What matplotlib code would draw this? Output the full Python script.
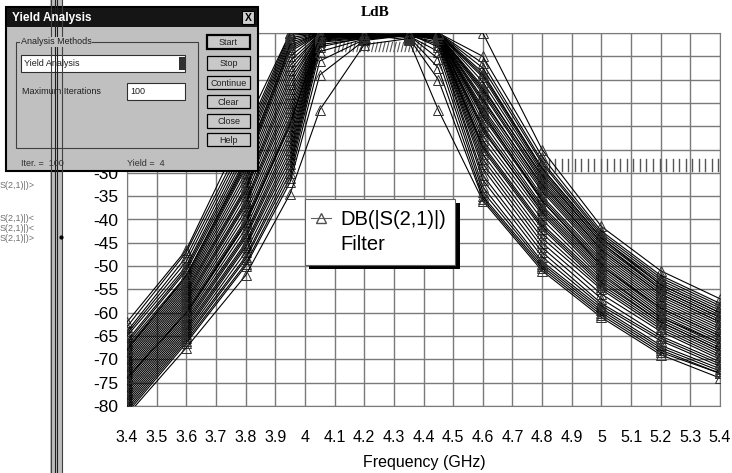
import numpy as np
import matplotlib
matplotlib.use('Agg')
import matplotlib.pyplot as plt
from matplotlib.patches import Rectangle
from matplotlib.lines import Line2D

# frequency points (GHz) where the swept responses are sampled / marked
freq = [3.4, 3.6, 3.8, 3.95, 4.05, 4.2, 4.35, 4.45, 4.6, 4.8, 5.0, 5.2, 5.4]

# DB(|S(2,1)|) of the yield iterations
curves = [
    [-62, -46.5, -20, 0, 0, -0.3, -1.5, -16.5, -36, -51, -61, -69, -74],
    [-63, -47, -22, 0, 0, -0.2, -0.6, -4, -33, -49, -59, -67, -72],
    [-64, -48, -23, -0.5, 0, -0.4, -0.3, -1.4, -27, -44, -55, -63.5, -69.5],
    [-64.5, -49, -24, -1, 0, -0.1, -0.5, -5.5, -34, -49.5, -59.5, -67.5, -72.5],
    [-65, -50, -25, -1.5, 0, -0.5, -0.2, -0.6, -22, -39, -52, -61, -67],
    [-66, -50.5, -26, -2, -0.1, -0.3, -0.4, -2.5, -30.5, -47, -58, -65.5, -71],
    [-66.5, -51, -27, -3, 0, -0.2, -0.7, -0.5, -16.5, -35, -48.5, -58, -64],
    [-67, -52, -28, -3.5, -0.1, -0.6, -0.3, -1.6, -28, -45, -56, -64, -70],
    [-67.5, -52.5, -28.5, -4, -0.2, -0.4, -0.5, -0.3, -13, -32, -46.5, -56, -62],
    [-68, -53, -29, -5, 0, -0.3, -0.2, -3, -31.5, -48, -58.5, -66, -71.5],
    [-68.5, -53.5, -30, -6, -0.2, -0.7, -0.4, -0.5, -19, -37, -50, -59.5, -65.5],
    [-69, -54, -31, -7, -0.3, -0.5, -0.6, 0, -8.5, -29, -44, -53.5, -59.5],
    [-69.5, -54.5, -32, -8, -0.1, -0.2, -0.3, -1.2, -25, -42, -54, -62.5, -68.5],
    [-70, -55, -33, -9, -0.3, -0.8, -0.5, -0.4, -15, -33.5, -47.5, -57, -63],
    [-70.5, -55.5, -33.5, -10, -0.4, -0.2, -1.0, -10, -35.5, -50.5, -60.5, -68.5, -73],
    [-71, -56, -34, -11, -0.2, -0.4, -0.8, -0.8, -21, -38, -51, -60.5, -66.5],
    [-71.5, -56.5, -35, -12, -0.5, -0.9, -0.3, -0.2, -11.5, -31, -45.5, -55, -61],
    [-72, -57, -36, -13, -0.4, -0.7, -0.6, -2, -29, -46, -57, -65, -70.5],
    [-72.5, -57.5, -36.5, -14, -0.6, -0.6, -0.4, -0.4, -17.5, -35.5, -49, -58.5, -64.5],
    [-73, -58, -37, -15, -0.5, -0.5, -0.2, 0, -6.5, -27.5, -43, -52.5, -58.5],
    [-73.5, -58.5, -38, -16, -0.7, -0.6, -0.5, -1, -24, -41, -53, -62, -68],
    [-74, -59, -39, -17, -0.6, -0.3, -0.7, -0.5, -17, -36, -50, -59, -65],
    [-74.5, -59.5, -40, -18, -0.8, -0.8, -0.4, -0.2, -14, -33, -47, -56.5, -62.5],
    [-75, -60, -40.5, -19, -0.9, -0.5, -0.5, -1.1, -26, -43, -54.5, -63, -69],
    [-75.5, -60.5, -41, -20, -0.7, -0.7, -0.3, -0.1, -9.5, -29.5, -44.5, -54, -60],
    [-76, -61, -42, -21, -1, -0.6, -0.6, -0.7, -20, -37.5, -50.5, -60, -66],
    [-76.5, -61.5, -43, -22, -1.1, -0.9, -0.5, -0.8, -20.5, -38.5, -51.5, -61, -66.5],
    [-77, -62, -43.5, -23, -1.3, -0.8, -0.2, -0.1, -12.5, -31.5, -46, -55.5, -61.5],
    [-77.5, -62.5, -44, -24, -1.2, -0.4, -0.8, -7.5, -35, -50, -60, -68, -73],
    [-78, -63, -45, -25, -1.5, -1.0, -0.4, -0.3, -16, -34, -48, -57.5, -63.5],
    [-78.5, -63.5, -45.5, -26, -1.8, -0.9, -0.7, -0.9, -23, -40, -52.5, -61.5, -67.5],
    [-79, -64, -46, -27, -2, -1.1, -0.3, 0, -10.5, -30, -45, -54.5, -60.5],
    [-79.5, -64.5, -47, -28, -2.5, -1.2, -0.6, -1.3, -24.5, -41.5, -53.5, -62, -68],
    [-80, -65, -48, -29, -3, -1.0, -0.3, 0, -7.5, -28, -43.5, -53, -59],
    [-80.5, -65.5, -48.5, -30, -4, -1.3, -0.5, -0.6, -18, -36, -49.5, -59, -65],
    [-81, -66, -49.5, -31, -6, -1.4, -0.4, -0.3, -14.5, -32.5, -46.5, -56, -62],
    [-81.5, -66.5, -50, -32, -9, -1.6, -0.5, -0.2, -12, -30.5, -45, -55, -61],
    [-82, -67.5, -52, -34.5, -16.5, -2.5, -1.2, 0, 0, -25, -41.5, -51, -57],
    [-68, -52, -27.5, -2.5, -0.1, -0.3, -0.4, -0.1, -9, -29, -44, -54, -60],
    [-74, -60, -41, -19.5, -0.8, -0.6, -0.3, 0, -5, -26.5, -42.5, -52, -58],
]

# yield goals (start GHz, stop GHz, level dB)
goal_pass = (4.1, 4.4, -2.0)
goal_stop = (4.8, 5.4, -27.0)

x_ticks = [3.4, 3.5, 3.6, 3.7, 3.8, 3.9, 4.0, 4.1, 4.2, 4.3, 4.4, 4.5,
           4.6, 4.7, 4.8, 4.9, 5.0, 5.1, 5.2, 5.3, 5.4]
x_labels = ['3.4', '3.5', '3.6', '3.7', '3.8', '3.9', '4', '4.1', '4.2', '4.3',
            '4.4', '4.5', '4.6', '4.7', '4.8', '4.9', '5', '5.1', '5.2', '5.3', '5.4']
y_ticks = list(range(-80, 1, 5))

W, H = 732, 473
plt.rcParams['font.family'] = ['Liberation Sans', 'DejaVu Sans']
fig = plt.figure(figsize=(W / 100, H / 100), dpi=100)
fig.patch.set_facecolor('white')

ax = fig.add_axes([127 / W, 1 - 406 / H, (720 - 127) / W, (406 - 33) / H])
for c in curves:
    ax.plot(freq, c, color='black', lw=0.8, marker='^', ms=6.5,
            mfc='none', mec='#303030', mew=0.7, zorder=3)

# goal hatching
f0, f1, lev = goal_pass
for f in np.arange(f0, f1 + 1e-6, 0.0125):
    ax.plot([f, f + 0.008], [lev - 2, lev], color='#555555', lw=0.8, zorder=2)
f0, f1, lev = goal_stop
for f in np.arange(f0, f1 + 1e-6, 0.022):
    ax.plot([f, f], [lev - 2.5, lev], color='#555555', lw=1.0, zorder=2)

ax.set_xlim(3.4, 5.4)
ax.set_ylim(-80, 0)
ax.set_xticks(x_ticks)
ax.set_xticklabels(x_labels, fontsize=11.5)
ax.set_yticks(y_ticks)
ax.set_yticklabels([str(v) for v in y_ticks], fontsize=12.5)
ax.tick_params(length=0)
ax.tick_params(axis='x', pad=17)
ax.tick_params(axis='y', pad=6)
ax.grid(True, color='#7a7a7a', lw=1.0, zorder=1)
ax.set_axisbelow(True)
for s in ax.spines.values():
    s.set_color('#7a7a7a')

fig.text(375 / W, 1 - 13 / H, 'LdB', family='Liberation Serif', weight='bold',
         fontsize=11, ha='center', va='center')
fig.text(424 / W, 1 - 462 / H, 'Frequency (GHz)', fontsize=11.5, ha='center', va='center')

# overlay in pixel coordinates: legend box, side panel, dialog
ov = fig.add_axes([0, 0, 1, 1], zorder=10)
ov.set_xlim(0, W)
ov.set_ylim(H, 0)
ov.axis('off')

# legend
ov.add_patch(Rectangle((309, 203), 151, 66, fc='black', ec='none'))
ov.add_patch(Rectangle((305, 199), 150, 66, fc='white', ec='#606060', lw=0.8))
ov.add_line(Line2D([311, 321, 331], [218, 218, 218], color='#606060', lw=0.8,
                   marker='^', markevery=[1], ms=6.5, mfc='none', mec='#505050'))
ov.text(340, 219, 'DB(|S(2,1)|)', fontsize=14.5, va='center')
ov.text(340, 244, 'Filter', fontsize=14.5, va='center')

# left project panel
for yy, t in [(185, 'S(2,1)|)>'), (218, 'S(2,1)|)<'), (228, 'S(2,1)|)<'), (238, 'S(2,1)|)>')]:
    ov.text(0, yy, t, fontsize=6.5, color='#707070', va='center')
ov.add_patch(Rectangle((50, 0), 12, H, fc='#bdbdbd', ec='none'))
for xx, col in [(50.5, '#404040'), (54.5, '#202020'), (56.5, '#202020'), (61.5, '#404040')]:
    ov.plot([xx, xx], [0, H], color=col, lw=0.8)
ov.plot([61], [237], marker='o', ms=2, color='black')

# yield analysis dialog
ov.add_patch(Rectangle((6, 7), 252, 164, fc='#c0c0c0', ec='black', lw=1.5))
ov.add_patch(Rectangle((7, 8), 250, 19, fc='#151515', ec='none'))
ov.text(12, 18, 'Yield Analysis', color='white', weight='bold', fontsize=8.5, va='center')
ov.add_patch(Rectangle((242, 11), 12, 13, fc='#d0d0d0', ec='black', lw=0.8))
ov.text(248, 18, 'X', fontsize=7.5, weight='bold', ha='center', va='center')

ov.add_patch(Rectangle((16, 42), 182, 106, fc='none', ec='#404040', lw=0.8))
ov.text(21, 42, 'Analysis Methods', fontsize=6.5, va='center', color='#202020',
        bbox=dict(fc='#c0c0c0', ec='none', pad=0.5))
ov.add_patch(Rectangle((21, 55), 164, 17, fc='white', ec='#303030', lw=0.8))
ov.text(24, 64, 'Yield Analysis', fontsize=6.5, va='center', color='#202020')
ov.add_patch(Rectangle((179, 57), 6, 13, fc='#303030', ec='none'))
ov.text(22, 91, 'Maximum Iterations', fontsize=6.5, va='center', color='#202020')
ov.add_patch(Rectangle((127, 83), 58, 17, fc='white', ec='#303030', lw=0.8))
ov.text(130, 92, '100', fontsize=6.5, va='center', color='#202020')

buttons = [('Start', 35, 14), ('Stop', 56, 14), ('Continue', 76, 13),
           ('Clear', 95, 13), ('Close', 114, 14), ('Help', 133, 13)]
for i, (name, y0, h) in enumerate(buttons):
    ov.add_patch(Rectangle((207, y0), 43, h, fc='#c8c8c8', ec='black',
                           lw=1.6 if i == 0 else 0.9))
    ov.text(228.5, y0 + h / 2 + 0.5, name, fontsize=6.5, ha='center', va='center', color='#202020')

ov.text(21, 163, 'Iter. =  100', fontsize=6.5, va='center', color='#303030')
ov.text(127, 163, 'Yield =  4', fontsize=6.5, va='center', color='#303030')

fig.savefig('out.png', dpi=100)
